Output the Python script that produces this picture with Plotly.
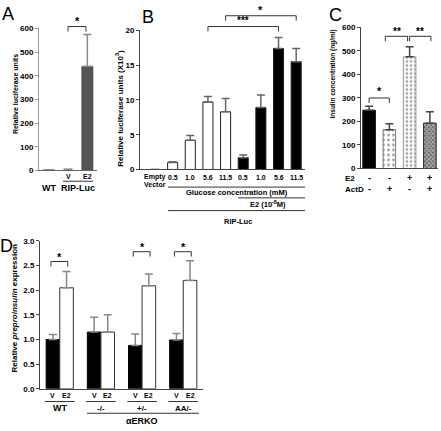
import plotly.graph_objects as go

W, H = 441, 431
FONT = "Liberation Sans"

# ---------------- data ----------------
# Panel A
a_labels = ["WT", "V", "E2"]
a_values = [3, 5, 440]
a_err = [None, None, 135]
a_colors = ["#444444", "#d0d0d0", "#555555"]

# Panel B
b_ticks = ["Empty", "0.5", "1.0", "5.6", "11.5", "0.5", "1.0", "5.6", "11.5"]
b_values = [0, 1.0, 4.2, 9.7, 8.3, 1.7, 8.9, 17.4, 15.5]
b_err = [None, 0.1, 0.7, 0.8, 1.9, 0.4, 1.8, 1.6, 1.9]
b_colors = ["white"] * 5 + ["black"] * 4

# Panel C
c_values = [248, 165, 475, 193]
c_err = [17, 25, 43, 49]
c_e2 = ["-", "-", "+", "+"]
c_actd = ["-", "+", "-", "+"]

# Panel D
d_groups = ["WT", "-/-", "+/-", "AA/-"]
d_v = [1.0, 1.15, 0.88, 0.99]
d_v_err = [0.1, 0.3, 0.23, 0.13]
d_e2 = [2.05, 1.15, 2.09, 2.2]
d_e2_err = [0.33, 0.35, 0.24, 0.4]


def X(p):
    return p / W


def Y(p):
    return 1 - p / H


def bold(size, color="black"):
    return dict(family=FONT, size=size, color=color, weight="bold")


fig = go.Figure()

# Panel A bars
fig.add_trace(go.Bar(
    x=list(range(len(a_values))), y=a_values, width=0.62,
    marker=dict(color=a_colors, line=dict(width=0)),
    error_y=dict(type="data", array=a_err, arrayminus=[0] * 3, symmetric=False,
                 color="#8a8a8a", thickness=1.5, width=4),
    xaxis="x", yaxis="y", showlegend=False))

# Panel B bars
fig.add_trace(go.Bar(
    x=list(range(len(b_values))), y=b_values, width=0.57,
    marker=dict(color=b_colors, line=dict(color="#222", width=1)),
    error_y=dict(type="data", array=b_err, arrayminus=[0] * 9, symmetric=False,
                 color="#666", thickness=1.5, width=4),
    xaxis="x2", yaxis="y2", showlegend=False))

# Panel C bars
fig.add_trace(go.Bar(
    x=list(range(len(c_values))), y=c_values, width=0.62,
    marker=dict(color=["black", "white", "white", "#666"],
                line=dict(color=["#111", "#777", "#999", "#222"], width=1),
                pattern=dict(shape=["", ".", ".", "x"],
                             fgcolor=["black", "#333", "#999", "#111"],
                             bgcolor=["black", "white", "white", "#777"],
                             size=[6, 5, 4, 3], solidity=[0.5, 0.25, 0.35, 0.55],
                             fillmode="overlay")),
    error_y=dict(type="data", array=c_err, arrayminus=[0] * 4, symmetric=False,
                 color="#444", thickness=1.5, width=4),
    xaxis="x3", yaxis="y3", showlegend=False))

# Panel D bars
dw = 0.33
fig.add_trace(go.Bar(
    x=list(range(len(d_v))), y=d_v, width=dw, offset=-dw,
    marker=dict(color="black", line=dict(color="black", width=1)),
    error_y=dict(type="data", array=d_v_err, arrayminus=[0] * 4, symmetric=False,
                 color="#888", thickness=1.5, width=4),
    xaxis="x4", yaxis="y4", showlegend=False))
fig.add_trace(go.Bar(
    x=list(range(len(d_e2))), y=d_e2, width=dw, offset=0,
    marker=dict(color="white", line=dict(color="#333", width=1)),
    error_y=dict(type="data", array=d_e2_err, arrayminus=[0] * 4, symmetric=False,
                 color="#888", thickness=1.5, width=4),
    xaxis="x4", yaxis="y4", showlegend=False))

common_x = dict(showgrid=False, zeroline=False, showticklabels=False, ticks="",
                showline=True, linewidth=1)
common_y = dict(showgrid=False, zeroline=False, ticks="outside", ticklen=3, tickwidth=1,
                showline=True, linewidth=1, tickfont=bold(8))

fig.update_layout(
    width=W, height=H, margin=dict(l=0, r=0, t=0, b=0),
    paper_bgcolor="white", plot_bgcolor="white", barmode="overlay",
    font=dict(family=FONT),
    xaxis=dict(domain=[X(39), X(97)], range=[-0.5, 2.5], anchor="y", linecolor="#666", **common_x),
    yaxis=dict(domain=[Y(170), Y(25)], range=[0, 600], dtick=100, anchor="x",
               linecolor="#999", tickcolor="#999", **common_y),
    xaxis2=dict(domain=[X(140), X(305)], range=[-0.85, 8.5], anchor="y2", linecolor="#444", **common_x),
    yaxis2=dict(domain=[Y(169), Y(27)], range=[0, 20], dtick=5, anchor="x2",
                linecolor="#444", tickcolor="#444", **common_y),
    xaxis3=dict(domain=[X(361), X(438)], range=[-0.4, 3.4], anchor="y3", linecolor="#444", **common_x),
    yaxis3=dict(domain=[Y(168), Y(24)], range=[0, 600], dtick=100, anchor="x3",
                linecolor="#444", tickcolor="#444", **common_y),
    xaxis4=dict(domain=[X(40), X(203)], range=[-0.48, 3.48], anchor="y4", linecolor="#444", **common_x),
    yaxis4=dict(domain=[Y(393), Y(242)], range=[0, 3], dtick=0.5, tickformat=".1f", anchor="x4",
                linecolor="#444", tickcolor="#444", **common_y),
)

ann = []
shapes = []


def text(t, x, y, xref="paper", size=8, weight="bold", angle=0, xanchor="center"):
    ann.append(dict(text=t, x=x, y=Y(y), xref=xref, yref="paper",
                    showarrow=False, textangle=angle, xanchor=xanchor, yanchor="middle",
                    font=dict(family=FONT, size=size, color="black", weight=weight)))


def hline(x0, x1, y, xref="paper", color="#333", width=1):
    shapes.append(dict(type="line", x0=x0, x1=x1, y0=Y(y), y1=Y(y), xref=xref, yref="paper",
                       line=dict(color=color, width=width)))


def bracket(x0, x1, ytop, ybot, xref, color="#333"):
    shapes.append(dict(type="path", xref=xref, yref="paper",
                       path=f"M {x0} {Y(ybot)} L {x0} {Y(ytop)} L {x1} {Y(ytop)} L {x1} {Y(ybot)}",
                       line=dict(color=color, width=1)))


# panel letters
text("A", X(8), 10, size=18, weight="normal")
text("B", X(148), 13, size=18, weight="normal")
text("C", X(335), 11, size=18, weight="normal")
text("D", X(6), 247, size=18, weight="normal")

# ---- Panel A annotations ----
text("Relative luciferase units", X(15), 92, size=7, angle=-90)
text(a_labels[1], 1, 176, xref="x", size=7)
text(a_labels[2], 2, 176, xref="x", size=7)
hline(0.74, 2.3, 181, xref="x")
text(a_labels[0], 0, 188, xref="x", size=9)
text("RIP-Luc", 1.52, 188, xref="x", size=9)
bracket(1.0, 1.93, 23, 28, "x")
text("*", 1.47, 17, xref="x", size=11)

# ---- Panel B annotations ----
text("Relative luciferase units (X10<sup>3</sup>)", X(119), 107, size=8, angle=-90)
for i, t in enumerate(b_ticks):
    text(t, i, 177, xref="x2", size=7)
text("Vector", 0, 184, xref="x2", size=7)
hline(0.74, 8.5, 187, xref="x2")
text("Glucose concentration (mM)", 4.65, 193, xref="x2", size=7.5)
hline(4.7, 8.5, 198, xref="x2")
text("E2 (10<sup>-8</sup>M)", 6.4, 204, xref="x2", size=7.5)
hline(0.74, 8.5, 211, xref="x2")
text("RIP-Luc", 4.7, 222, xref="x2", size=7.5)
bracket(3, 7, 23, 28, "x2")
text("***", 5, 17, xref="x2", size=10)
bracket(4, 8, 12, 17, "x2")
text("*", 6, 6, xref="x2", size=11)

# ---- Panel C annotations ----
text("Insulin concentration (ng/ml)", X(333), 72, size=6.5, angle=-90)
text("E2", X(343), 178, size=8, xanchor="left")
text("ActD", X(343), 189, size=8, xanchor="left")
for i in range(len(c_e2)):
    text(c_e2[i], i, 178, xref="x3", size=9)
    text(c_actd[i], i, 189, xref="x3", size=9)
bracket(0, 1, 96, 101, "x3")
text("*", 0.5, 89, xref="x3", size=11)
bracket(0.8, 1.9, 33, 38, "x3")
text("**", 1.4, 28, xref="x3", size=10)
bracket(2.0, 3.05, 33, 38, "x3")
text("**", 2.5, 28, xref="x3", size=10)

# ---- Panel D annotations ----
text("Relative <i>preproinsulin</i> expression", X(15), 311, size=8, angle=-90)
for i, g in enumerate(d_groups):
    text("V", i - dw / 2, 400, xref="x4", size=7)
    text("E2", i + dw / 2, 400, xref="x4", size=7)
    hline(i - 0.36, i + 0.36, 406, xref="x4")
    text(g, i, 413, xref="x4", size=9 if g == "WT" else 8)
hline(0.66, 3.38, 418, xref="x4")
text("αERKO", 2.0, 426, xref="x4", size=9)
for i in [0, 2, 3]:
    yt = 263 if i == 0 else 253
    bracket(i - dw / 2 - 0.05, i + dw / 2 + 0.03, yt, yt + 5, "x4")
    text("*", i, yt - 5, xref="x4", size=11)

fig.update_layout(annotations=ann, shapes=shapes)
fig.write_html("out.html", config={"displayModeBar": False},
               post_script="document.body.style.margin='0';document.body.style.overflow='hidden';")
